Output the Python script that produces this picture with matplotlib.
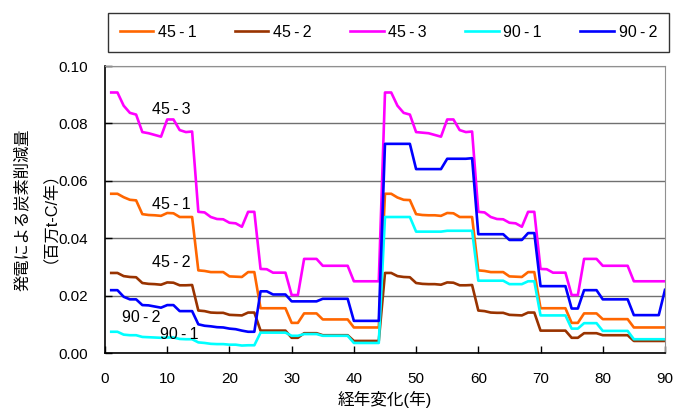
import matplotlib
matplotlib.use("Agg")
import matplotlib.pyplot as plt

plt.rcParams["font.family"] = ["Liberation Sans", "Noto Sans CJK JP"]

years = list(range(1, 91))

s45_1 = [
    .0555, .0555, .0543, .0534, .0532, .0484, .0481, .0480, .0478, .0488,
    .0487, .0474, .0474, .0474, .0288, .0286, .0282, .0282, .0282, .0267,
    .0266, .0265, .0282, .0282, .0156, .0156, .0156, .0156, .0156, .0105,
    .0105, .0138, .0138, .0138, .0117, .0117, .0117, .0117, .0117, .0089,
    .0089, .0089, .0089, .0089, .0555, .0555, .0542, .0534, .0533, .0484,
    .0481, .0480, .0480, .0478, .0488, .0487, .0474, .0474, .0474, .0288,
    .0286, .0282, .0282, .0282, .0267, .0266, .0265, .0282, .0282, .0156,
    .0156, .0156, .0156, .0156, .0105, .0105, .0138, .0138, .0138, .0118,
    .0118, .0118, .0118, .0118, .0089, .0089, .0089, .0089, .0089, .0089,
]
s45_2 = [
    .0279, .0279, .0268, .0265, .0264, .0244, .0241, .0240, .0238, .0246,
    .0245, .0236, .0236, .0237, .0148, .0146, .0141, .0140, .0140, .0133,
    .0132, .0131, .0141, .0141, .0078, .0078, .0078, .0078, .0078, .0053,
    .0053, .0069, .0069, .0069, .0062, .0062, .0062, .0062, .0062, .0042,
    .0042, .0042, .0042, .0042, .0279, .0279, .0268, .0265, .0264, .0244,
    .0241, .0240, .0240, .0238, .0246, .0245, .0236, .0236, .0237, .0148,
    .0146, .0141, .0140, .0140, .0133, .0132, .0131, .0141, .0141, .0078,
    .0078, .0078, .0078, .0078, .0053, .0053, .0069, .0069, .0069, .0062,
    .0062, .0062, .0062, .0062, .0042, .0042, .0042, .0042, .0042, .0042,
]
s45_3 = [
    .0908, .0908, .0862, .0837, .0831, .0770, .0766, .0760, .0754, .0814,
    .0814, .0777, .0770, .0772, .0492, .0490, .0474, .0467, .0466, .0454,
    .0452, .0440, .0492, .0492, .0293, .0292, .0280, .0280, .0280, .0202,
    .0202, .0328, .0328, .0328, .0304, .0304, .0304, .0304, .0304, .0250,
    .0250, .0250, .0250, .0250, .0908, .0908, .0862, .0837, .0831, .0770,
    .0768, .0766, .0760, .0754, .0814, .0814, .0777, .0770, .0772, .0492,
    .0490, .0474, .0467, .0466, .0454, .0452, .0440, .0492, .0492, .0293,
    .0292, .0280, .0280, .0280, .0202, .0202, .0328, .0328, .0328, .0304,
    .0304, .0304, .0304, .0304, .0250, .0250, .0250, .0250, .0250, .0250,
]
s90_1 = [
    .0074, .0074, .0064, .0062, .0062, .0056, .0055, .0054, .0053, .0054,
    .0054, .0049, .0048, .0048, .0037, .0035, .0032, .0031, .0031, .0029,
    .0029, .0026, .0027, .0027, .0071, .0071, .0071, .0071, .0071, .0060,
    .0060, .0066, .0066, .0066, .0060, .0060, .0060, .0060, .0060, .0035,
    .0035, .0035, .0035, .0035, .0474, .0474, .0474, .0474, .0474, .0423,
    .0423, .0423, .0423, .0423, .0426, .0426, .0426, .0426, .0426, .0252,
    .0252, .0252, .0252, .0252, .0240, .0240, .0240, .0250, .0250, .0131,
    .0131, .0131, .0131, .0131, .0085, .0085, .0104, .0104, .0104, .0077,
    .0077, .0077, .0077, .0077, .0048, .0048, .0048, .0048, .0048, .0048,
]
s90_2 = [
    .0219, .0219, .0196, .0187, .0187, .0167, .0166, .0162, .0158, .0167,
    .0167, .0146, .0146, .0146, .0100, .0095, .0093, .0090, .0089, .0085,
    .0083, .0078, .0074, .0074, .0215, .0215, .0204, .0204, .0204, .0180,
    .0180, .0180, .0180, .0180, .0189, .0189, .0189, .0189, .0189, .0112,
    .0112, .0112, .0112, .0112, .0729, .0729, .0729, .0729, .0729, .0641,
    .0641, .0641, .0641, .0641, .0677, .0677, .0677, .0677, .0679, .0414,
    .0414, .0414, .0414, .0414, .0394, .0394, .0394, .0418, .0418, .0233,
    .0233, .0233, .0233, .0233, .0155, .0155, .0219, .0219, .0219, .0187,
    .0187, .0187, .0187, .0187, .0132, .0132, .0132, .0132, .0132, .0220,
]

names = ["45\u2009-\u20091", "45\u2009-\u20092", "45\u2009-\u20093",
         "90\u2009-\u20091", "90\u2009-\u20092"]
series = [s45_1, s45_2, s45_3, s90_1, s90_2]
colors = ["#FF6600", "#993300", "#FF00FF", "#00FFFF", "#0000FF"]

# in-plot labels: (text, x, y)
notes = [("45\u2009-\u20093", 10.6, 0.085), ("45\u2009-\u20091", 10.6, 0.0518),
         ("45\u2009-\u20092", 10.6, 0.0317), ("90\u2009-\u20092", 5.8, 0.0125),
         ("90\u2009-\u20091", 11.9, 0.0066)]

fig = plt.figure(figsize=(6.74, 4.08), dpi=100)
ax = fig.add_axes([0.1558, 0.1348, 0.8308, 0.7032])

for name, vals, col in zip(names, series, colors):
    ax.plot(years, vals, color=col, lw=1.9, label=name)

for txt, x, y in notes:
    ax.text(x, y, txt, fontsize=11.5, ha="center", va="center")

ax.set_xlim(0, 90)
ax.set_ylim(0, 0.10)
ax.set_xticks(range(0, 91, 10))
ax.set_yticks([0, 0.02, 0.04, 0.06, 0.08, 0.10])
ax.set_yticklabels(["0.00", "0.02", "0.04", "0.06", "0.08", "0.10"])
ax.tick_params(direction="in", length=5, labelsize=11, width=1)
ax.tick_params(axis="y", pad=12)
ax.tick_params(axis="x", pad=14)
ax.grid(axis="y", color="#707070", lw=1)
ax.set_axisbelow(True)
for side in ["top", "right"]:
    ax.spines[side].set_color("#909090")
for side in ["left", "bottom"]:
    ax.spines[side].set_linewidth(1.2)

ax.set_xlabel("経年変化(年)", fontsize=12, labelpad=3)
ax.set_ylabel("発電による炭素削減量\n（百万t-C/年）", fontsize=11.7, labelpad=7,
              linespacing=1.25)

leg = ax.legend(loc="lower left", bbox_to_anchor=(0.005, 1.049, 1.002, 0.139),
                mode="expand", ncol=5, fancybox=False, edgecolor="black",
                fontsize=11.5, handlelength=2.1, handletextpad=0.3,
                borderpad=0.75, borderaxespad=0)
leg.get_frame().set_linewidth(1)

fig.savefig("out.png")
